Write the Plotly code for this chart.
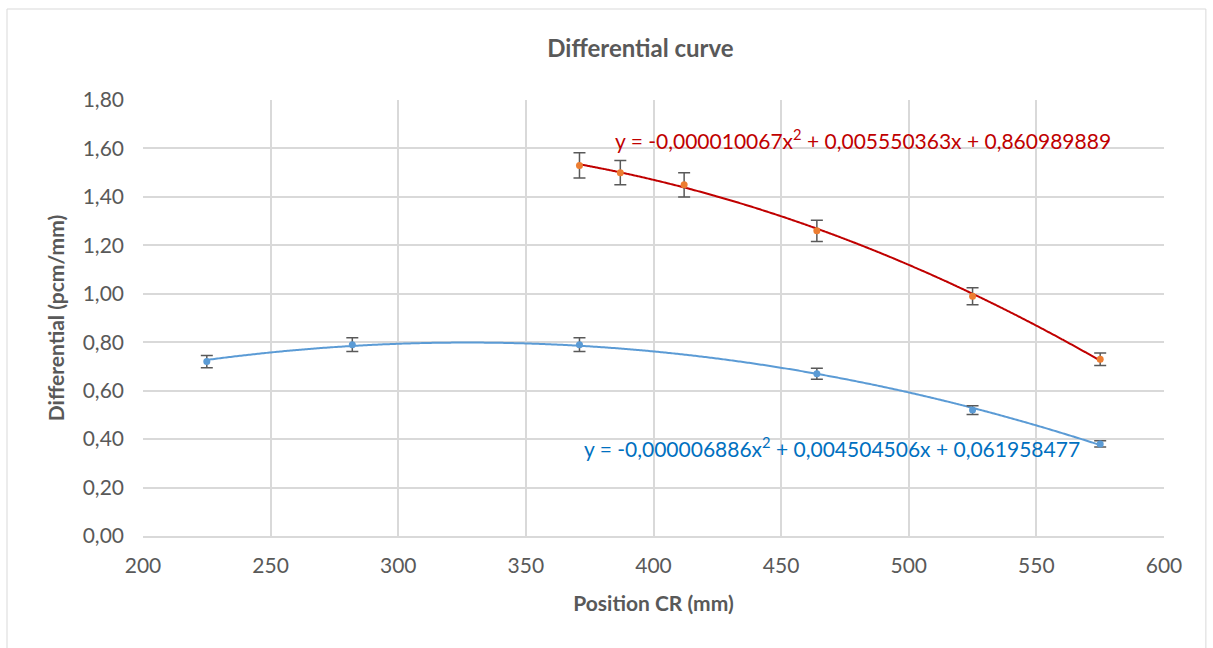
import numpy as np
import plotly.graph_objects as go

# Data
blue_x = [225, 282, 371, 464, 525, 575]
blue_y = [0.72, 0.79, 0.79, 0.67, 0.52, 0.38]
blue_err = [0.025, 0.028, 0.028, 0.023, 0.018, 0.013]

red_x = [371, 387, 412, 464, 525, 575]
red_y = [1.53, 1.50, 1.45, 1.26, 0.99, 0.73]
red_err = [0.052, 0.050, 0.050, 0.044, 0.035, 0.026]

# Displayed trendline coefficients (a, b, c) for y = a x^2 + b x + c
blue_coef = [-0.000006886, 0.004504506, 0.061958477]
red_coef = [-0.000010067, 0.005550363, 0.860989889]

x_ticks = [200, 250, 300, 350, 400, 450, 500, 550, 600]
y_ticks = [0.0, 0.2, 0.4, 0.6, 0.8, 1.0, 1.2, 1.4, 1.6, 1.8]
y_tick_labels = ["0,00", "0,20", "0,40", "0,60", "0,80", "1,00", "1,20", "1,40", "1,60", "1,80"]

FONT = "Lato, 'Open Sans', sans-serif"
GRAY = "#595959"
GRID = "#D9D9D9"

bx = np.linspace(min(blue_x), max(blue_x), 300)
rx = np.linspace(min(red_x), max(red_x), 300)

fig = go.Figure()
fig.add_trace(go.Scatter(x=bx, y=np.polyval(blue_coef, bx), mode="lines",
                         line=dict(color="#5B9BD5", width=2, shape="spline"), showlegend=False, hoverinfo="skip"))
fig.add_trace(go.Scatter(x=rx, y=np.polyval(red_coef, rx), mode="lines",
                         line=dict(color="#C00000", width=2, shape="spline"), showlegend=False, hoverinfo="skip"))
fig.add_trace(go.Scatter(x=blue_x, y=blue_y, mode="markers",
                         marker=dict(color="#5B9BD5", size=7),
                         error_y=dict(type="data", array=blue_err, color=GRAY, thickness=1.5, width=6),
                         showlegend=False))
fig.add_trace(go.Scatter(x=red_x, y=red_y, mode="markers",
                         marker=dict(color="#ED7D31", size=7),
                         error_y=dict(type="data", array=red_err, color=GRAY, thickness=1.5, width=6),
                         showlegend=False))

def eq_text(c):
    def f(v):
        return ("%.9f" % abs(v)).replace(".", ",")
    a = "-" + f(c[0]) if c[0] < 0 else f(c[0])
    return "y = %sx<sup>2</sup> + %sx + %s" % (a, f(c[1]), f(c[2]))

fig.add_annotation(x=384, y=1.64, xref="x", yref="y", text=eq_text(red_coef), showarrow=False,
                   xanchor="left", yanchor="middle", font=dict(family=FONT, size=21, color="#C00000"))
fig.add_annotation(x=372, y=0.367, xref="x", yref="y", text=eq_text(blue_coef), showarrow=False,
                   xanchor="left", yanchor="middle", font=dict(family=FONT, size=21, color="#0070C0"))

# Outer chart border
fig.add_shape(type="rect", xref="paper", yref="paper", x0=-0.1332, x1=1.041, y0=-0.26, y1=1.2087,
              line=dict(color=GRID, width=1), fillcolor="rgba(0,0,0,0)", layer="below")

fig.update_layout(
    width=1213, height=648,
    margin=dict(l=143, r=49, t=100, b=112),
    paper_bgcolor="white", plot_bgcolor="white",
    font=dict(family=FONT, color=GRAY, size=15),
    title=dict(text="<b>Differential curve</b>", x=0.528, xanchor="center", y=0.925, yanchor="middle",
               font=dict(family=FONT, size=24, color=GRAY)),
    xaxis=dict(range=[200, 600], tickvals=x_ticks, ticktext=[str(v) for v in x_ticks],
               showgrid=True, gridcolor=GRID, gridwidth=1.5, zeroline=False,
               showline=True, linecolor=GRID, linewidth=1.5, ticks="", ticklen=0,
               ticklabelstandoff=10,
               tickfont=dict(family=FONT, size=21, color=GRAY),
               title=dict(text="<b>Position CR (mm)</b>", font=dict(family=FONT, size=21, color=GRAY), standoff=20)),
    yaxis=dict(range=[0, 1.8], tickvals=y_ticks, ticktext=y_tick_labels,
               showgrid=True, gridcolor=GRID, gridwidth=1.5, zeroline=False,
               showline=False, ticks="", ticklen=0,
               ticklabelstandoff=18,
               tickfont=dict(family=FONT, size=21, color=GRAY),
               title=dict(text="<b>Differential (pcm/mm)</b>", font=dict(family=FONT, size=21, color=GRAY), standoff=12)),
)

fig.write_html("out.html")
